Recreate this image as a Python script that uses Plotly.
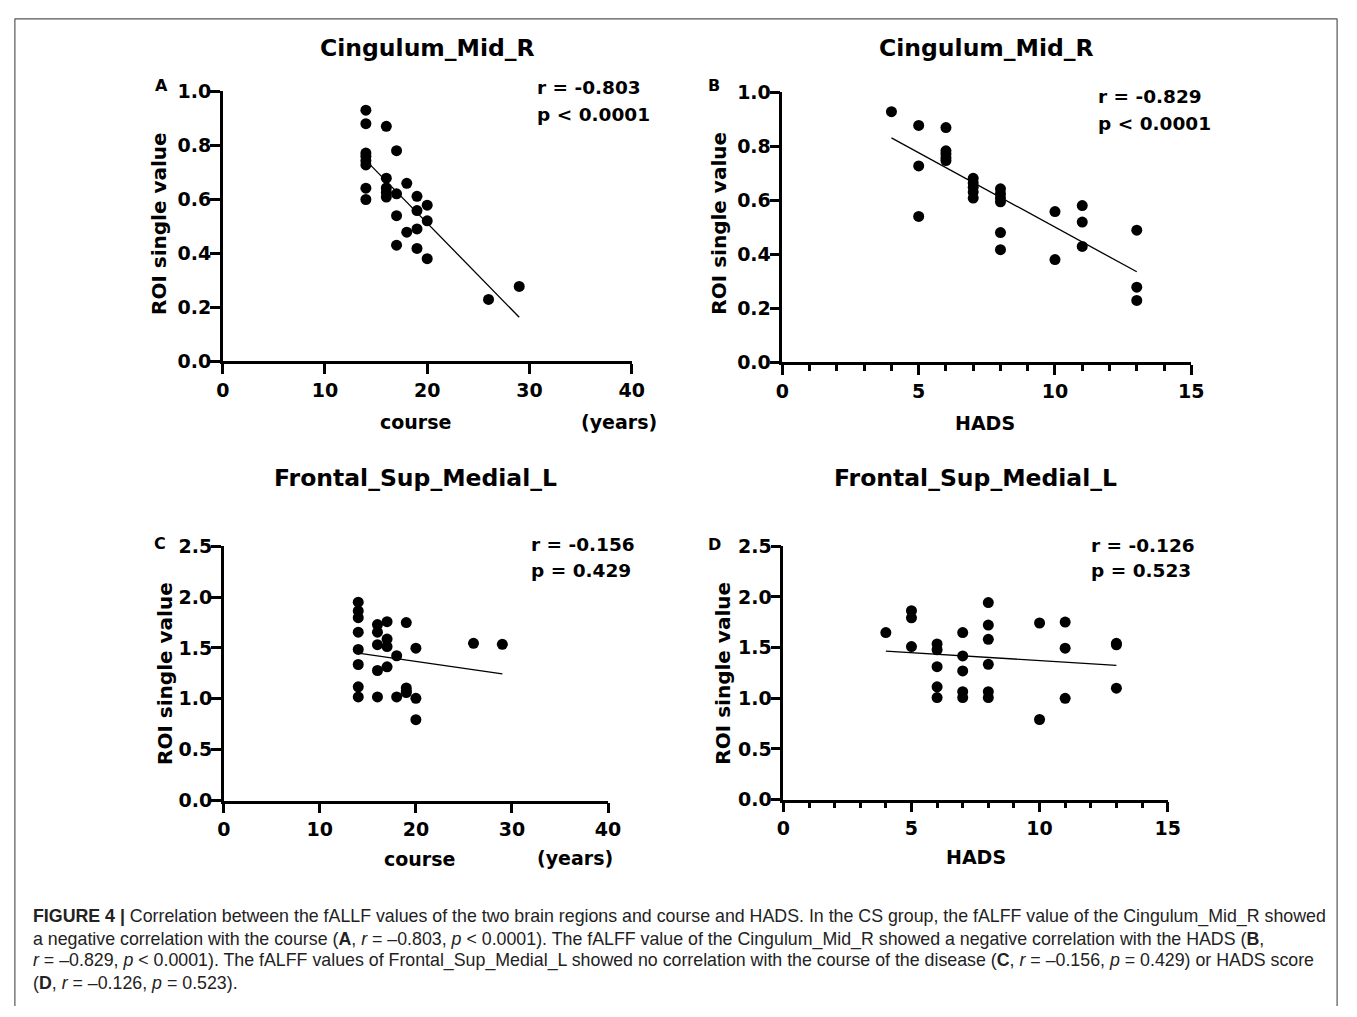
import plotly.graph_objects as go

W, H = 1357, 1017

# ---------------- data ----------------
a_course = [14, 14, 14, 14, 14, 14, 14, 14,
            16, 16, 16, 16, 16,
            17, 17, 17, 17,
            18, 18,
            19, 19, 19, 19,
            20, 20, 20,
            26, 29]
a_roi = [0.93, 0.88, 0.771, 0.759, 0.743, 0.727, 0.641, 0.599,
         0.87, 0.678, 0.642, 0.625, 0.608,
         0.78, 0.62, 0.539, 0.43,
         0.659, 0.478,
         0.611, 0.558, 0.49, 0.418,
         0.578, 0.52, 0.38,
         0.229, 0.277]

b_hads = [4, 5, 5, 5, 6, 6, 6, 6, 6,
          7, 7, 7, 7, 7,
          8, 8, 8, 8, 8, 8,
          10, 10, 11, 11, 11, 13, 13, 13]
b_roi = [0.928, 0.877, 0.727, 0.54, 0.869, 0.783, 0.771, 0.757, 0.747,
         0.681, 0.664, 0.648, 0.63, 0.608,
         0.642, 0.624, 0.608, 0.594, 0.48, 0.417,
         0.558, 0.38, 0.58, 0.519, 0.429, 0.489, 0.278, 0.229]

c_course = [14, 14, 14, 14, 14, 14, 14, 14,
            16, 16, 16, 16, 16,
            17, 17, 17, 17,
            18, 18,
            19, 19, 19, 19,
            20, 20, 20,
            26, 29]
c_roi = [1.949, 1.863, 1.797, 1.655, 1.485, 1.337, 1.118, 1.018,
         1.73, 1.655, 1.532, 1.278, 1.018,
         1.758, 1.587, 1.513, 1.314,
         1.423, 1.018,
         1.749, 1.106, 1.08, 1.061,
         1.497, 1.005, 0.795,
         1.545, 1.535]

d_hads = [4, 5, 5, 5, 6, 6, 6, 6, 6,
          7, 7, 7, 7, 7,
          8, 8, 8, 8, 8, 8,
          10, 10, 11, 11, 11, 13, 13, 13]
d_roi = [1.648, 1.864, 1.793, 1.51, 1.536, 1.478, 1.311, 1.112, 1.006,
         1.648, 1.417, 1.269, 1.064, 1.006,
         1.944, 1.722, 1.581, 1.334, 1.064, 1.006,
         1.742, 0.79, 1.751, 1.494, 0.999, 1.542, 1.527, 1.099]

# regression lines (end points)
a_fit_x, a_fit_y = [14, 29], [0.744, 0.163]
b_fit_x, b_fit_y = [4, 13], [0.831, 0.335]
c_fit_x, c_fit_y = [14, 29], [1.449, 1.244]
d_fit_x, d_fit_y = [4, 13], [1.465, 1.324]

panel_titles = ["Cingulum_Mid_R", "Cingulum_Mid_R", "Frontal_Sup_Medial_L", "Frontal_Sup_Medial_L"]
panel_letters = ["A", "B", "C", "D"]
stats_r = ["r = -0.803", "r = -0.829", "r = -0.156", "r = -0.126"]
stats_p = ["p &lt; 0.0001", "p &lt; 0.0001", "p = 0.429", "p = 0.523"]
x_titles = ["course", "HADS", "course", "HADS"]
y_title = "ROI single value"

caption_lines = [
    "<b>FIGURE 4 |</b> Correlation between the fALLF values of the two brain regions and course and HADS. In the CS group, the fALFF value of the Cingulum_Mid_R showed",
    "a negative correlation with the course (<b>A</b>, <i>r</i> = \u20130.803, <i>p</i> &lt; 0.0001). The fALFF value of the Cingulum_Mid_R showed a negative correlation with the HADS (<b>B</b>,",
    "<i>r</i> = \u20130.829, <i>p</i> &lt; 0.0001). The fALFF values of Frontal_Sup_Medial_L showed no correlation with the course of the disease (<b>C</b>, <i>r</i> = \u20130.156, <i>p</i> = 0.429) or HADS score",
    "(<b>D</b>, <i>r</i> = \u20130.126, <i>p</i> = 0.523).",
]

# ---------------- layout helpers ----------------
def px_x(x):
    return x / W

def px_y(y):
    return 1 - y / H

# plot areas in pixels: (left, right, top, bottom)
areas = [
    (219, 634, 82, 358),
    (787, 1202, 83, 359),
    (220, 610, 547, 807),
    (788, 1178, 547, 806),
]
xranges = [[0, 40], [0, 15], [0, 40], [0, 15]]
yranges = [[0, 1.0], [0, 1.0], [0, 2.5], [0, 2.5]]
xdticks = [10, 5, 10, 5]
ydticks = [0.2, 0.2, 0.5, 0.5]
minor_x = [False, True, False, True]

FONT = "DejaVu Sans"
BLACK = "#000000"

fig = go.Figure()

series = [
    (a_course, a_roi, a_fit_x, a_fit_y),
    (b_hads, b_roi, b_fit_x, b_fit_y),
    (c_course, c_roi, c_fit_x, c_fit_y),
    (d_hads, d_roi, d_fit_x, d_fit_y),
]

layout = {}
for i, (xs, ys, fx, fy) in enumerate(series):
    k = "" if i == 0 else str(i + 1)
    fig.add_trace(go.Scatter(x=fx, y=fy, mode="lines", line=dict(color=BLACK, width=1.3),
                             xaxis="x" + k, yaxis="y" + k, showlegend=False, hoverinfo="skip"))
    fig.add_trace(go.Scatter(x=xs, y=ys, mode="markers",
                             marker=dict(color=BLACK, size=11, line=dict(width=0)),
                             xaxis="x" + k, yaxis="y" + k, showlegend=False))
    l, r, t, b = areas[i]
    xa = dict(domain=[px_x(l), px_x(r)], range=xranges[i], anchor="y" + k,
              showline=True, linecolor=BLACK, linewidth=2.6, mirror=False,
              ticks="outside", ticklen=10, tickwidth=2.6, tickcolor=BLACK,
              dtick=xdticks[i], tick0=0, showgrid=False, zeroline=False,
              tickfont=dict(family=FONT, size=19, color=BLACK, weight="bold"),
              fixedrange=True)
    if minor_x[i]:
        xa["minor"] = dict(dtick=1, tick0=0, ticks="outside", ticklen=6, tickwidth=2.6,
                           tickcolor=BLACK, showgrid=False)
    ya = dict(domain=[px_y(b), px_y(t)], range=yranges[i], anchor="x" + k,
              showline=True, linecolor=BLACK, linewidth=2.6,
              ticks="outside", ticklen=10, tickwidth=2.6, tickcolor=BLACK,
              dtick=ydticks[i], tick0=0, tickformat=".1f", showgrid=False, zeroline=False,
              tickfont=dict(family=FONT, size=19, color=BLACK, weight="bold"),
              ticklabelstandoff=-5,
              fixedrange=True)
    layout["xaxis" + k] = xa
    layout["yaxis" + k] = ya

annotations = []

def ann(text, x, y, size, xanchor="center", yanchor="middle", angle=0, family=FONT,
        weight="bold", color=BLACK):
    annotations.append(dict(text=text, x=px_x(x), y=px_y(y), xref="paper", yref="paper",
                            xanchor=xanchor, yanchor=yanchor, showarrow=False, textangle=angle,
                            font=dict(family=family, size=size, color=color, weight=weight)))

# panel titles
title_pos = [(427, 38), (994, 38), (415, 477), (983, 477)]
for t, (x, y) in zip(panel_titles, title_pos):
    ann(t, x, y, 23.5)

# panel letters
letter_pos = [(157, 76), (718, 76), (155, 544), (718, 545)]
for t, (x, y) in zip(panel_letters, letter_pos):
    ann(t, x, y, 16)

# stats
stat_pos = [(536, 78, 106), (1105, 87, 115), (530, 545, 572), (1098, 546, 572)]
for rt, pt, (x, y1, y2) in zip(stats_r, stats_p, stat_pos):
    ann(rt, x, y1, 18.5, xanchor="left")
    ann(pt, x, y2, 18.5, xanchor="left")

# y-axis titles
ytitle_pos = [(155, 217), (723, 217), (161, 677), (727, 677)]
for (x, y) in ytitle_pos:
    ann(y_title, x, y, 20, angle=-90)

# x-axis titles
xtitle_pos = [(415, 420), (993, 421), (419, 867), (983, 865)]
for t, (x, y) in zip(x_titles, xtitle_pos):
    ann(t, x, y, 19)
ann("(years)", 621, 420, 19)
ann("(years)", 577, 866, 19)

# caption
cap_y = [926, 949, 971, 993]
for line, y in zip(caption_lines, cap_y):
    ann(line, 24, y, 17.8, xanchor="left", family="Liberation Sans", weight="normal", color="#222222")

# frame around the figure (kept inside the page)
shapes = [
    dict(type="line", xref="paper", yref="paper", x0=px_x(8), x1=px_x(8), y0=px_y(8), y1=0,
         line=dict(color="#555555", width=1.2)),
    dict(type="line", xref="paper", yref="paper", x0=px_x(8), x1=px_x(1350), y0=px_y(8), y1=px_y(8),
         line=dict(color="#555555", width=1.2)),
    dict(type="line", xref="paper", yref="paper", x0=px_x(1350), x1=px_x(1350), y0=px_y(8), y1=0,
         line=dict(color="#555555", width=1.2)),
]

fig.update_layout(
    width=W, height=H,
    margin=dict(l=0, r=0, t=0, b=0),
    paper_bgcolor="white", plot_bgcolor="white",
    showlegend=False,
    annotations=annotations,
    shapes=shapes,
    modebar=dict(bgcolor="rgba(0,0,0,0)", color="rgba(0,0,0,0)", activecolor="rgba(0,0,0,0)"),
    **layout,
)

fig.write_html("out.html", config={"displaylogo": False},
               post_script="document.body.style.margin='0';")
